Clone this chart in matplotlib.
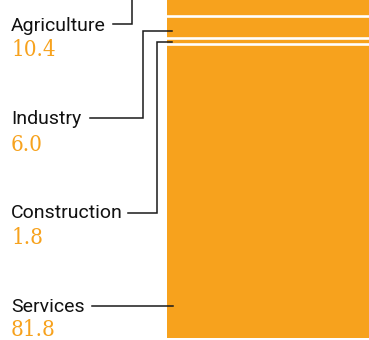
import matplotlib
matplotlib.use("Agg")
import matplotlib.pyplot as plt
import numpy as np

# Data
categories = ["Agriculture", "Industry", "Construction", "Services"]
values = [10.4, 6.0, 1.8, 81.8]
value_labels = ["10.4", "6.0", "1.8", "81.8"]

ORANGE = "#F7A21D"
LINE = "#1a1a1a"
W, H = 369, 340

fig = plt.figure(figsize=(W / 100, H / 100), dpi=100)

# Stacked bar axes (extends above the top of the figure, as in the reference crop)
bar_left_px, bar_bottom_px, bar_height_px = 167, 2, 359
bax = fig.add_axes([bar_left_px / W, bar_bottom_px / H, (W - bar_left_px) / W + 0.01, bar_height_px / H])
bax.set_xlim(-0.5, 0.5)
bax.set_ylim(0, 100)
bax.axis("off")

order = list(range(len(categories)))[::-1]  # Services at bottom
bottom = 0.0
bounds = []
for i in order:
    bax.bar(0, values[i], bottom=bottom, width=1.0, color=ORANGE, linewidth=0)
    bottom += values[i]
    bounds.append(bottom)
for b in bounds[:-1]:
    bax.axhline(b, color="white", linewidth=1.9)

# Overlay axes in pixel coordinates for labels and leader lines
ov = fig.add_axes([0, 0, 1, 1])
ov.set_xlim(0, W)
ov.set_ylim(H, 0)
ov.axis("off")

label_base = [30.7, 124.0, 218.3, 311.7]
num_base = [56.0, 151.0, 244.3, 336.0]
for cat, vl, yb, yn in zip(categories, value_labels, label_base, num_base):
    ov.text(11, yb, cat, fontsize=14, family="Roboto", color="#111111", va="baseline", ha="left")
    ov.text(11, yn, vl, fontsize=16, family="DejaVu Serif", fontstretch="condensed",
            color=ORANGE, va="baseline", ha="left")

lw = 1.1
# Agriculture leader
ov.plot([113, 132, 132], [24, 24, -5], color=LINE, lw=lw, solid_joinstyle="miter")
# Industry leader
ov.plot([89.5, 143.3, 143.3, 172], [118.3, 118.3, 30.7, 30.7], color=LINE, lw=lw, solid_joinstyle="miter")
# Construction leader
ov.plot([128, 157, 157, 172], [212.7, 212.7, 42.3, 42.3], color=LINE, lw=lw, solid_joinstyle="miter")
# Services leader
ov.plot([92, 173], [305.7, 305.7], color=LINE, lw=lw)

fig.savefig("out.png", dpi=100)
